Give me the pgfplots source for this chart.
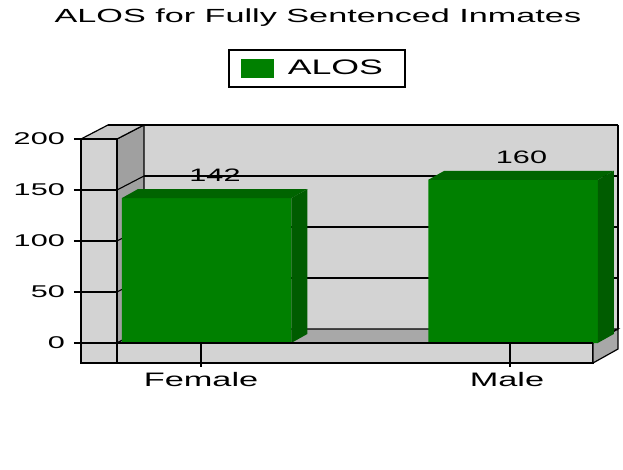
\documentclass[border=0pt]{standalone}
\usepackage{pgfplots}
\pgfplotsset{compat=1.18}
\usepackage{fontspec}
\setmainfont[FakeStretch=1.7]{Liberation Sans}
\newfontfamily\titlefont[FakeStretch=1.8]{Liberation Sans}
\newfontfamily\tickfont[FakeStretch=1.8]{Liberation Sans}
\newfontfamily\xlabfont[FakeStretch=1.76]{Liberation Sans}
\definecolor{wallL}{RGB}{211,211,211}
\definecolor{wallT}{RGB}{200,200,200}
\definecolor{wallD}{RGB}{160,160,160}
\definecolor{floorT}{RGB}{168,168,168}
\definecolor{barF}{RGB}{0,128,0}
\definecolor{barT}{RGB}{0,100,0}
\definecolor{barS}{RGB}{0,92,0}
\begin{document}
\begin{tikzpicture}
\path[use as bounding box] (0,0) rectangle (623bp,-470bp);
\begin{axis}[
  at={(117bp,-343bp)}, anchor=south west,
  scale only axis, width=476bp, height=204bp,
  xmin=117, xmax=593, ymin=0, ymax=200,
  clip=false,
  axis line style={draw=none},
  major tick length=0pt,
  xtick={201,507}, xticklabels={Female,Male},
  ytick={0,50,100,150,200},
  /pgf/number format/assume math mode=true,
  xticklabel style={font=\xlabfont\fontsize{19.5bp}{20bp}\selectfont, anchor=base, inner sep=0pt, yshift=-43bp},
  yticklabel style={font=\tickfont\fontsize{17bp}{18bp}\selectfont, anchor=east, inner sep=0pt, xshift=-52bp},
  title={ALOS for Fully Sentenced Inmates},
  title style={at={(0.422,1.544)}, anchor=base, font=\titlefont\fontsize{19bp}{20bp}\selectfont, inner sep=0pt},
  legend style={at={(0.2332,1.441)}, anchor=north west, draw=black, line width=1.5bp,
    font=\fontsize{21bp}{22bp}\selectfont, inner xsep=12bp, inner ysep=9bp,
    nodes={inner sep=0pt}, column sep=14bp},
  legend image code/.code={\fill[barF] (0bp,-9.5bp) rectangle (33bp,9.5bp);},
]
% back wall
\fill[wallL] (axis cs:144,13.73) rectangle (axis cs:618,213.73);
\draw[line width=1.1bp] (axis cs:144,63.73) -- (axis cs:618,63.73);
\draw[line width=1.1bp] (axis cs:144,113.73) -- (axis cs:618,113.73);
\draw[line width=1.1bp] (axis cs:144,163.73) -- (axis cs:618,163.73);
% left side (inner) face
\filldraw[fill=wallD, draw=black, line width=1.1bp] (axis cs:117,0) -- (axis cs:117,200) -- (axis cs:144,213.73) -- (axis cs:144,13.73) -- cycle;
\draw[line width=1.1bp] (axis cs:117,50) -- (axis cs:144,63.73);
\draw[line width=1.1bp] (axis cs:117,100) -- (axis cs:144,113.73);
\draw[line width=1.1bp] (axis cs:117,150) -- (axis cs:144,163.73);
% left wall front and top
\filldraw[fill=wallL, draw=black, line width=1.2bp] (axis cs:81,-19.6) rectangle (axis cs:117,200);
\filldraw[fill=wallT, draw=black, line width=1.2bp] (axis cs:81,200) -- (axis cs:117,200) -- (axis cs:144,213.73) -- (axis cs:108,213.73) -- cycle;
\draw[line width=1.5bp] (axis cs:108,213.73) -- (axis cs:618,213.73);
\draw[line width=2.6bp] (axis cs:618,213.73) -- (axis cs:618,13.73);
% y ticks
\draw[line width=1.2bp] (axis cs:74,0) -- (axis cs:117,0);
\draw[line width=1.2bp] (axis cs:74,50) -- (axis cs:117,50);
\draw[line width=1.2bp] (axis cs:74,100) -- (axis cs:117,100);
\draw[line width=1.2bp] (axis cs:74,150) -- (axis cs:117,150);
\draw[line width=1.2bp] (axis cs:74,200) -- (axis cs:117,200);
% floor
\filldraw[fill=floorT, draw=black, line width=1.2bp] (axis cs:117,0) -- (axis cs:144,13.73) -- (axis cs:618,13.73) -- (axis cs:593,0) -- cycle;
\filldraw[fill=wallL, draw=black, line width=1.2bp] (axis cs:117,0) rectangle (axis cs:593,-19.6);
\filldraw[fill=floorT, draw=black, line width=1.2bp] (axis cs:593,0) -- (axis cs:618,13.73) -- (axis cs:618,-5.9) -- (axis cs:593,-19.6) -- cycle;
% x ticks
\draw[line width=1.5bp] (axis cs:201,0) -- (axis cs:201,-23.5);
\draw[line width=1.5bp] (axis cs:510,0) -- (axis cs:510,-23.5);
% bars
\addplot[ybar, bar width=169.5bp, fill=barF, draw=none,
  nodes near coords,
  every node near coord/.append style={font=\fontsize{18bp}{19bp}\selectfont, text=black, inner sep=0pt, xshift=8.5bp, yshift=16bp}]
  coordinates {(206.5,142) (513,160)};
\addlegendentry{ALOS\hspace*{10bp}}
\addplot[forget plot, fill=barT, draw=none] coordinates {(121.75,142) (137.75,150.8) (307.25,150.8) (291.25,142)};
\addplot[forget plot, fill=barS, draw=none] coordinates {(291.25,0) (291.25,142) (307.25,150.8) (307.25,8.8)};
\addplot[forget plot, fill=barT, draw=none] coordinates {(428.25,160) (444.25,168.8) (613.75,168.8) (597.75,160)};
\addplot[forget plot, fill=barS, draw=none] coordinates {(597.75,0) (597.75,160) (613.75,168.8) (613.75,8.8)};
\draw[line width=1.2bp] (axis cs:117,0) -- (axis cs:593,0);
\end{axis}
\end{tikzpicture}
\end{document}
